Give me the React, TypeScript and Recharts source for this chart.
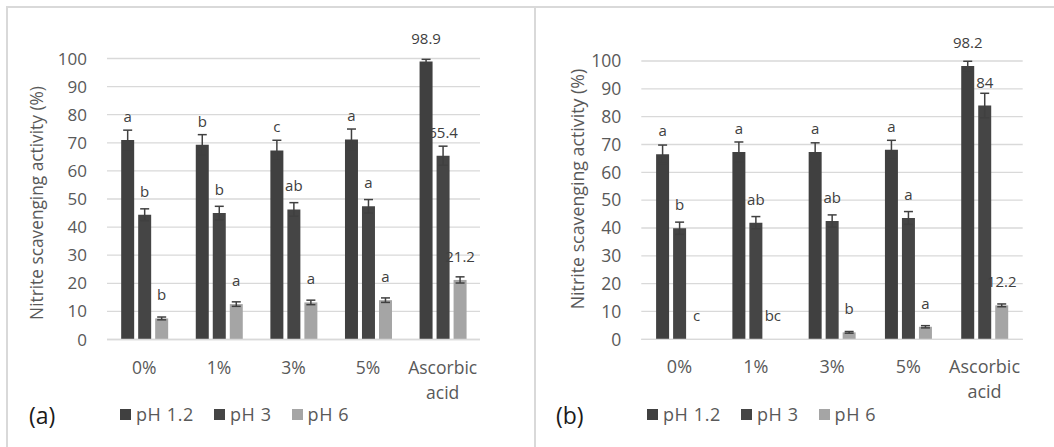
import React from 'react';
import {
  BarChart,
  Bar,
  XAxis,
  YAxis,
  CartesianGrid,
  ErrorBar,
  LabelList,
} from 'recharts';

const categories = ['0%', '1%', '3%', '5%', 'Ascorbic acid'];
const seriesNames = ['pH 1.2', 'pH 3', 'pH 6'];
const seriesColors = ['#404040', '#454545', '#a5a5a5'];
const yTicks = [0, 10, 20, 30, 40, 50, 60, 70, 80, 90, 100];

// panel (a)
const aPh12 = [71.0, 69.3, 67.3, 71.2, 98.9];
const aPh3 = [44.4, 45.0, 46.3, 47.4, 65.4];
const aPh6 = [7.5, 12.6, 13.2, 14.0, 21.2];
const aErr12 = [3.5, 3.6, 3.6, 3.7, 0.8];
const aErr3 = [2.1, 2.4, 2.4, 2.4, 3.4];
const aErr6 = [0.5, 0.8, 0.8, 0.8, 1.1];
const aLab12 = ['a', 'b', 'c', 'a', '98.9'];
const aLab3 = ['b', 'b', 'ab', 'a', '65.4'];
const aLab6 = ['b', 'a', 'a', 'a', '21.2'];

// panel (b)
const bPh12 = [66.5, 67.3, 67.3, 68.1, 98.2];
const bPh3 = [39.9, 41.9, 42.5, 43.6, 84];
const bPh6 = [0, 0, 2.5, 4.5, 12.2];
const bErr12 = [3.3, 3.6, 3.3, 3.4, 1.7];
const bErr3 = [2.2, 2.2, 2.2, 2.3, 4.4];
const bErr6 = [0, 0, 0.3, 0.4, 0.5];
const bLab12 = ['a', 'a', 'a', 'a', '98.2'];
const bLab3 = ['b', 'ab', 'ab', 'a', '84'];
const bLab6 = ['c', 'bc', 'b', 'a', '12.2'];

const FONT = '"Open Sans", "Noto Sans", sans-serif';
const TEXT = '#595959';
const GRID = '#d9d9d9';

function buildRows(v: number[][], e: number[][], l: string[][]) {
  return categories.map((c, i) => ({
    cat: c,
    v0: v[0][i],
    v1: v[1][i],
    v2: v[2][i],
    e0: e[0][i],
    e1: e[1][i],
    e2: e[2][i],
    l0: l[0][i],
    l1: l[1][i],
    l2: l[2][i],
  }));
}

const dataA = buildRows([aPh12, aPh3, aPh6], [aErr12, aErr3, aErr6], [aLab12, aLab3, aLab6]);
const dataB = buildRows([bPh12, bPh3, bPh6], [bErr12, bErr3, bErr6], [bLab12, bLab3, bLab6]);

function XTick(props: any) {
  const { x, y, payload, fontSize } = props;
  const words = String(payload.value).split(' ');
  return (
    <text x={x} y={y} textAnchor="middle" fontSize={fontSize} fill={TEXT} fontFamily={FONT}>
      {words.map((w, i) => (
        <tspan key={i} x={x} dy={i === 0 ? 34 : 25}>
          {w}
        </tspan>
      ))}
    </text>
  );
}

function renderBarLabel(props: any) {
  const { x, y, width, value } = props;
  if (value == null || value === '') return null;
  return (
    <text
      x={Number(x) + Number(width) / 2}
      y={Number(y) - 18}
      textAnchor="middle"
      fontSize={15}
      fill="#404040"
      fontFamily={FONT}
    >
      {value}
    </text>
  );
}

interface PanelProps {
  data: ReturnType<typeof buildRows>;
  tag: string;
  yAxisWidth: number;
  margin: { top: number; right: number; bottom: number; left: number };
  catGap: string;
  labelX: number;
  labelY: number;
  labelSize: number;
  tickSize: number;
}

function Panel({ data, tag, yAxisWidth, margin, catGap, labelX, labelY, labelSize, tickSize }: PanelProps) {
  return (
    <div style={{ position: 'relative', width: 527, height: 447 }}>
      <BarChart
        width={527}
        height={447}
        data={data}
        margin={margin}
        barCategoryGap={catGap}
        barGap={4}
      >
        <CartesianGrid vertical={false} stroke={GRID} strokeWidth={1.3} />
        <XAxis
          dataKey="cat"
          height={60}
          axisLine={{ stroke: GRID, strokeWidth: 1.3 }}
          tickLine={false}
          tickSize={0}
          tickMargin={0}
          interval={0}
          tick={<XTick fontSize={tickSize + 0.5} />}
        />
        <YAxis
          width={yAxisWidth}
          domain={[0, 100]}
          ticks={yTicks}
          axisLine={false}
          tickLine={false}
          tickSize={0}
          tickMargin={20}
          tick={{ fill: TEXT, fontSize: tickSize, fontFamily: FONT }}
        />
        {seriesNames.map((name, k) => (
          <Bar
            key={name}
            dataKey={`v${k}`}
            name={name}
            fill={seriesColors[k]}
            minPointSize={0.01}
            isAnimationActive={false}
          >
            <ErrorBar dataKey={`e${k}`} width={4.5} stroke="#404040" strokeWidth={1.5} />
            <LabelList dataKey={`l${k}`} content={renderBarLabel} />
          </Bar>
        ))}
      </BarChart>
      <div
        style={{
          position: 'absolute',
          left: labelX,
          top: labelY,
          transform: 'translate(-50%, -50%) rotate(-90deg)',
          whiteSpace: 'nowrap',
          fontFamily: FONT,
          fontSize: labelSize,
          color: TEXT,
        }}
      >
        Nitrite scavenging activity (%)
      </div>
      <div
        style={{
          position: 'absolute',
          left: 29,
          top: 400,
          fontFamily: FONT,
          fontSize: 23,
          color: '#1a1a1a',
          lineHeight: '30px',
        }}
      >
        {tag}
      </div>
      <div
        style={{
          position: 'absolute',
          left: 120,
          top: 401,
          display: 'flex',
          alignItems: 'center',
          fontFamily: FONT,
          fontSize: 18,
          color: TEXT,
          lineHeight: '26px',
        }}
      >
        {seriesNames.map((name, k) => (
          <div key={name} style={{ display: 'flex', alignItems: 'center', marginRight: 20 }}>
            <span
              style={{
                display: 'inline-block',
                width: 11,
                height: 11,
                background: seriesColors[k],
                marginRight: 5,
              }}
            />
            <span style={{ letterSpacing: 0.6 }}>{name}</span>
          </div>
        ))}
      </div>
    </div>
  );
}

export default function App() {
  return (
    <div style={{ position: 'relative', width: 1054, height: 447, background: '#fff', overflow: 'hidden' }}>
      <style>{'body{margin:0}'}</style>
      <div style={{ position: 'absolute', left: 6, top: 6, width: 1048, height: 2, background: GRID }} />
      <div style={{ position: 'absolute', left: 6, top: 6, width: 2, height: 441, background: GRID }} />
      <div style={{ position: 'absolute', left: 534, top: 6, width: 2, height: 441, background: GRID }} />
      <div style={{ position: 'absolute', left: 0, top: 0 }}>
        <Panel
          data={dataA}
          tag="(a)"
          yAxisWidth={107}
          margin={{ top: 58.5, right: 47, bottom: 47.5, left: 0 }}
          catGap="19%"
          labelX={36}
          labelY={203}
          labelSize={17.3}
          tickSize={17}
        />
      </div>
      <div style={{ position: 'absolute', left: 527, top: 0 }}>
        <Panel
          data={dataB}
          tag="(b)"
          yAxisWidth={114.3}
          margin={{ top: 61, right: 31.3, bottom: 47.7, left: 0 }}
          catGap="19.4%"
          labelX={50}
          labelY={189}
          labelSize={17.8}
          tickSize={17.5}
        />
      </div>
    </div>
  );
}
